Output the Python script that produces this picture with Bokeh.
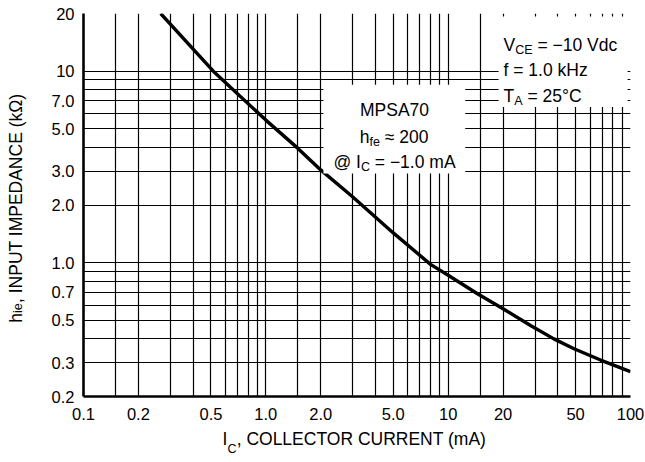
import math
from bokeh.plotting import figure
from bokeh.models import Range1d, FixedTicker, Label, BoxAnnotation, LogAxis
from bokeh.embed import file_html
from bokeh.resources import INLINE

# ---- data ----
ic_ma = [0.265, 0.515, 1.0, 1.5, 2.0, 3.0, 5.0, 8.0, 10, 14.4, 20, 28.3, 38, 49, 68.5, 100]
hie_kohm = [20, 10, 5.55, 3.95, 3.05, 2.2, 1.43, 0.98, 0.86, 0.69, 0.575, 0.47, 0.40, 0.355, 0.31, 0.27]

x_ticks = [0.1, 0.2, 0.5, 1, 2, 5, 10, 20, 50, 100]
x_tick_labels = ["0.1", "0.2", "0.5", "1.0", "2.0", "5.0", "10", "20", "50", "100"]
y_ticks = [0.2, 0.3, 0.5, 0.7, 1, 2, 3, 5, 7, 10, 20]
y_tick_labels = ["0.2", "0.3", "0.5", "0.7", "1.0", "2.0", "3.0", "5.0", "7.0", "10", "20"]

x_grid = [0.15, 0.2, 0.3, 0.4, 0.5, 0.6, 0.7, 0.8, 0.9,
          1, 1.5, 2, 3, 4, 5, 6, 7, 8, 9,
          10, 15, 20, 30, 40, 50, 60, 70, 80, 90, 100]
y_grid = [0.3, 0.4, 0.5, 0.6, 0.7, 0.8, 0.9, 1, 2, 3, 4, 5, 6, 7, 8, 9, 10]

x_title = [("I", "main"), ("C", "sub"), (", COLLECTOR CURRENT (mA)", "main")]
y_title = [("h", "main"), ("ie", "sub"), (", INPUT IMPEDANCE (k\u03a9)", "main")]

FONT = "Liberation Sans"
MAIN, SUB, SUBDY = 17.5, 12.5, 5
SIZES = {"main": MAIN, "sub": SUB}

# frame placement (page pixels)
FL, FT, FR, FB = 83, 13, 630, 396
X0, X1, Y0, Y1 = 0.1, 100.0, 0.2, 20.0

p = figure(width=645, height=462, x_axis_type="log", y_axis_type="log",
           x_range=Range1d(X0, X1), y_range=Range1d(Y0, Y1),
           output_backend="svg", toolbar_location=None,
           min_border_left=FL, min_border_top=FT, min_border_right=645 - FR,
           min_border_bottom=462 - FB)
p.outline_line_color = None
p.background_fill_color = "white"
p.border_fill_color = "white"


def style_axis(ax, size):
    ax.axis_line_color = "black"
    ax.major_tick_line_color = None
    ax.minor_tick_line_color = None
    ax.major_tick_in = 0
    ax.major_tick_out = 0
    ax.minor_tick_in = 0
    ax.minor_tick_out = 0
    ax.major_label_text_font = FONT
    ax.major_label_text_font_size = f"{size}px"
    ax.major_label_text_color = "black"


for ax in (p.xaxis[0], p.yaxis[0]):
    style_axis(ax, 16.5)
    ax.axis_line_width = 2.6

p.xaxis.ticker = FixedTicker(ticks=x_ticks)
p.xaxis.major_label_overrides = {t: l for t, l in zip(x_ticks, x_tick_labels)}
p.xaxis.major_label_standoff = 11
p.yaxis.ticker = FixedTicker(ticks=y_ticks)
p.yaxis.major_label_overrides = {t: l for t, l in zip(y_ticks, y_tick_labels)}
p.yaxis.major_label_standoff = 9

p.xgrid.ticker = FixedTicker(ticks=x_grid)
p.ygrid.ticker = FixedTicker(ticks=y_grid)
for g in (p.xgrid[0], p.ygrid[0]):
    g.grid_line_color = "black"
    g.grid_line_alpha = 1.0
    g.grid_line_width = 1.2

p.line(ic_ma, hie_kohm, line_color="black", line_width=3.4, line_join="round")

# white boxes behind annotation texts
p.add_layout(BoxAnnotation(left=2.07, right=12.4, bottom=2.92, top=8.5,
                           fill_color="white", fill_alpha=1.0, line_color=None))
p.add_layout(BoxAnnotation(left=18.9, right=96.4, bottom=6.5, top=19.3,
                           fill_color="white", fill_alpha=1.0, line_color=None))

# ---- text helpers ----
W = {' ': 278, ',': 278, '.': 278, '=': 584, '\u2212': 584, '\u2248': 584, '\u00b0': 400,
     '@': 1015, '(': 333, ')': 333, 'A': 667, 'C': 722, 'D': 722, 'E': 667, 'I': 278,
     'L': 556, 'M': 833, 'N': 722, 'O': 778, 'P': 667, 'R': 722, 'S': 667, 'T': 611,
     'U': 722, 'V': 667, 'H': 722, 'a': 556, 'c': 500, 'd': 556, 'e': 556, 'f': 278,
     'h': 556, 'i': 222, 'k': 500, 'm': 833, 'z': 500, '\u03a9': 768}


def text_w(s, size):
    return sum(W.get(ch, 556) for ch in s) * size / 1000.0


def runs_w(runs):
    return sum(text_w(t, s) for t, s, _ in runs)


def put(runs, px, py):
    """Label runs inside the frame; px, py = page position of the baseline start."""
    adv = 0.0
    for t, size, dy in runs:
        stripped = t.lstrip(" ")
        lead = text_w(t[:len(t) - len(stripped)], size)
        p.add_layout(Label(x=X0, y=Y0, x_offset=px - FL + adv + lead, y_offset=FB - py - dy,
                           text=stripped, text_font=FONT, text_font_size=f"{size}px",
                           text_color="black", text_align="left", text_baseline="alphabetic"))
        adv += text_w(t, size)


def put_center(runs, cx, py):
    put(runs, cx - runs_w(runs) / 2.0, py)


# conditions box
put([("V", MAIN, 0), ("CE", SUB, SUBDY), (" = \u221210 Vdc", MAIN, 0)], 503, 44)
put([("f = 1.0 kHz", MAIN, 0)], 503, 69)
put([("T", MAIN, 0), ("A", SUB, SUBDY), (" = 25\u00b0C", MAIN, 0)], 503, 95)

# device box
put_center([("MPSA70", MAIN, 0)], 394, 109)
put_center([("h", MAIN, 0), ("fe", SUB, SUBDY), (" \u2248 200", MAIN, 0)], 394, 136)
put_center([("@ I", MAIN, 0), ("C", SUB, SUBDY), (" = \u22121.0 mA", MAIN, 0)], 394, 161)


# ---- axis titles built from label-only axes (kept in the side panels) ----
def px_to_x(px):
    return 10 ** (math.log10(X0) + (px - FL) / (FR - FL) * (math.log10(X1) - math.log10(X0)))


def py_to_y(py):
    return 10 ** (math.log10(Y1) - (py - FT) / (FB - FT) * (math.log10(Y1) - math.log10(Y0)))


def title_axis(side, ticks, labels, size, standoff, orientation):
    ax = LogAxis(ticker=FixedTicker(ticks=ticks),
                 major_label_overrides={t: l for t, l in zip(ticks, labels)},
                 major_label_standoff=standoff, major_label_orientation=orientation)
    style_axis(ax, size)
    ax.axis_line_color = None
    p.add_layout(ax, side)


def title_pieces(parts, start, direction):
    res = {"main": ([], []), "sub": ([], [])}
    pos = start
    for t, k in parts:
        w = text_w(t, SIZES[k])
        res[k][0].append(pos + direction * w / 2.0)
        res[k][1].append(t)
        pos += direction * w
    return res


xt_total = sum(text_w(t, SIZES[k]) for t, k in x_title)
xp = title_pieces(x_title, 354 - xt_total / 2.0, +1)
title_axis("below", [px_to_x(v) for v in xp["main"][0]], xp["main"][1], MAIN, 6, "horizontal")
title_axis("below", [px_to_x(v) for v in xp["sub"][0]], xp["sub"][1], SUB, -10, "horizontal")

yt_total = sum(text_w(t, SIZES[k]) for t, k in y_title)
yp = title_pieces(y_title, 207.5 + yt_total / 2.0, -1)
title_axis("left", [py_to_y(v) for v in yp["main"][0]], yp["main"][1], MAIN, 22, "vertical")
title_axis("left", [py_to_y(v) for v in yp["sub"][0]], yp["sub"][1], SUB, -22, "vertical")

open("out.html", "w").write(file_html(p, INLINE))
